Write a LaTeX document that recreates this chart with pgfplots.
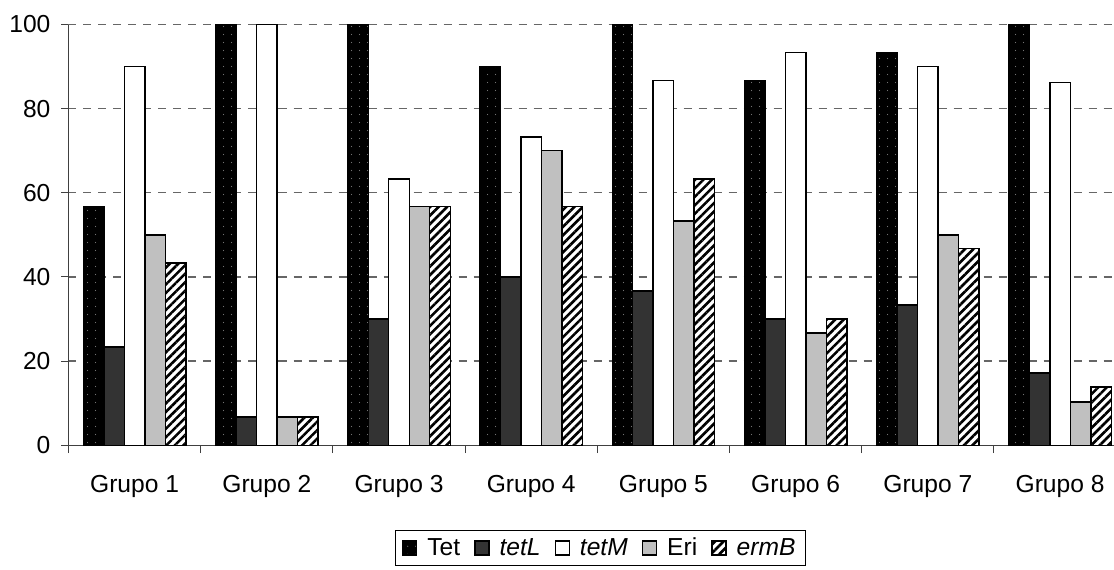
\documentclass[border=0pt]{standalone}
\usepackage{fontspec}
\setmainfont{Liberation Sans}
\usepackage{pgfplots}
\usepackage{pgfplotstable}
\pgfplotsset{compat=1.18}
\usetikzlibrary{patterns.meta}

% porcentaje de aislados por grupo
\pgfplotstableread{
g   tet   tetl  tetm   eri   ermb
0   56.7  23.3  90.0   50.0  43.3
1   100   6.7   100    6.7   6.7
2   100   30.0  63.3   56.7  56.7
3   90.0  40.0  73.3   70.0  56.7
4   100   36.7  86.7   53.3  63.3
5   86.7  30.0  93.3   26.7  30.0
6   93.3  33.3  90.0   50.0  46.7
7   100   17.2  86.2   10.3  13.8
}\datos

\definecolor{grisosc}{RGB}{51,51,51}
\definecolor{grisclaro}{RGB}{192,192,192}

\begin{document}
\begin{tikzpicture}
  \begin{axis}[
    scale only axis,
    width=522.75pt, height=210.35pt,
    ybar=0pt, bar width=0.155,
    xmin=-0.5, xmax=7.408,
    ymin=0, ymax=100,
    axis x line*=bottom, axis y line*=left,
    axis line style={black!75, line width=0.5pt},
    xtick={0,...,7},
    xticklabels={Grupo 1,Grupo 2,Grupo 3,Grupo 4,Grupo 5,Grupo 6,Grupo 7,Grupo 8},
    minor xtick={-0.5,0.5,...,6.5},
    ytick={0,20,...,100},
    tick align=outside,
    major tick length=3.5pt, minor tick length=4pt,
    major x tick style={draw=none},
    tick style={black!75, line width=0.5pt},
    ymajorgrids,
    major grid style={black!60, line width=0.6pt, dash pattern=on 4pt off 3.5pt},
    ticklabel style={font=\fontsize{12.3}{14}\selectfont},
    /pgf/number format/assume math mode=true,
    xticklabel style={yshift=-8pt},
    yticklabel style={xshift=-2pt},
    legend columns=5,
    legend style={at={(axis description cs:0.509,0)}, anchor=north, yshift=-42.5pt,
      draw=black, line width=0.5pt, font=\fontsize{12.3}{14}\selectfont,
      inner xsep=3pt, inner ysep=1.5pt,
      /tikz/every odd column/.append style={column sep=3pt},
      /tikz/every even column/.append style={column sep=5pt}},
    legend image code/.code={\draw[#1] (0pt,-3.5pt) rectangle (7pt,3.5pt);},
    every axis plot/.append style={draw=black, line width=0.7pt},
    ]
    \addplot[fill=black, postaction={pattern={Dots[distance=4pt,radius=0.35pt]}, pattern color=black!55}]
      table[x=g, y=tet] {\datos};
    \addplot[fill=grisosc] table[x=g, y=tetl] {\datos};
    \addplot[fill=white] table[x=g, y=tetm] {\datos};
    \addplot[fill=grisclaro] table[x=g, y=eri] {\datos};
    \addplot[fill=white, postaction={pattern={Lines[angle=45,distance=3pt,line width=1.3pt]}, pattern color=black}]
      table[x=g, y=ermb] {\datos};
    \legend{Tet, \textit{tetL}, \textit{tetM}, Eri, \textit{ermB}}
    \coordinate (o) at (rel axis cs:0,0);
  \end{axis}
  \pgfresetboundingbox
  \path[use as bounding box] ([shift={(-34.25pt,-62pt)}]o) rectangle ([shift={(522.75pt,222.6pt)}]o);
\end{tikzpicture}
\end{document}
